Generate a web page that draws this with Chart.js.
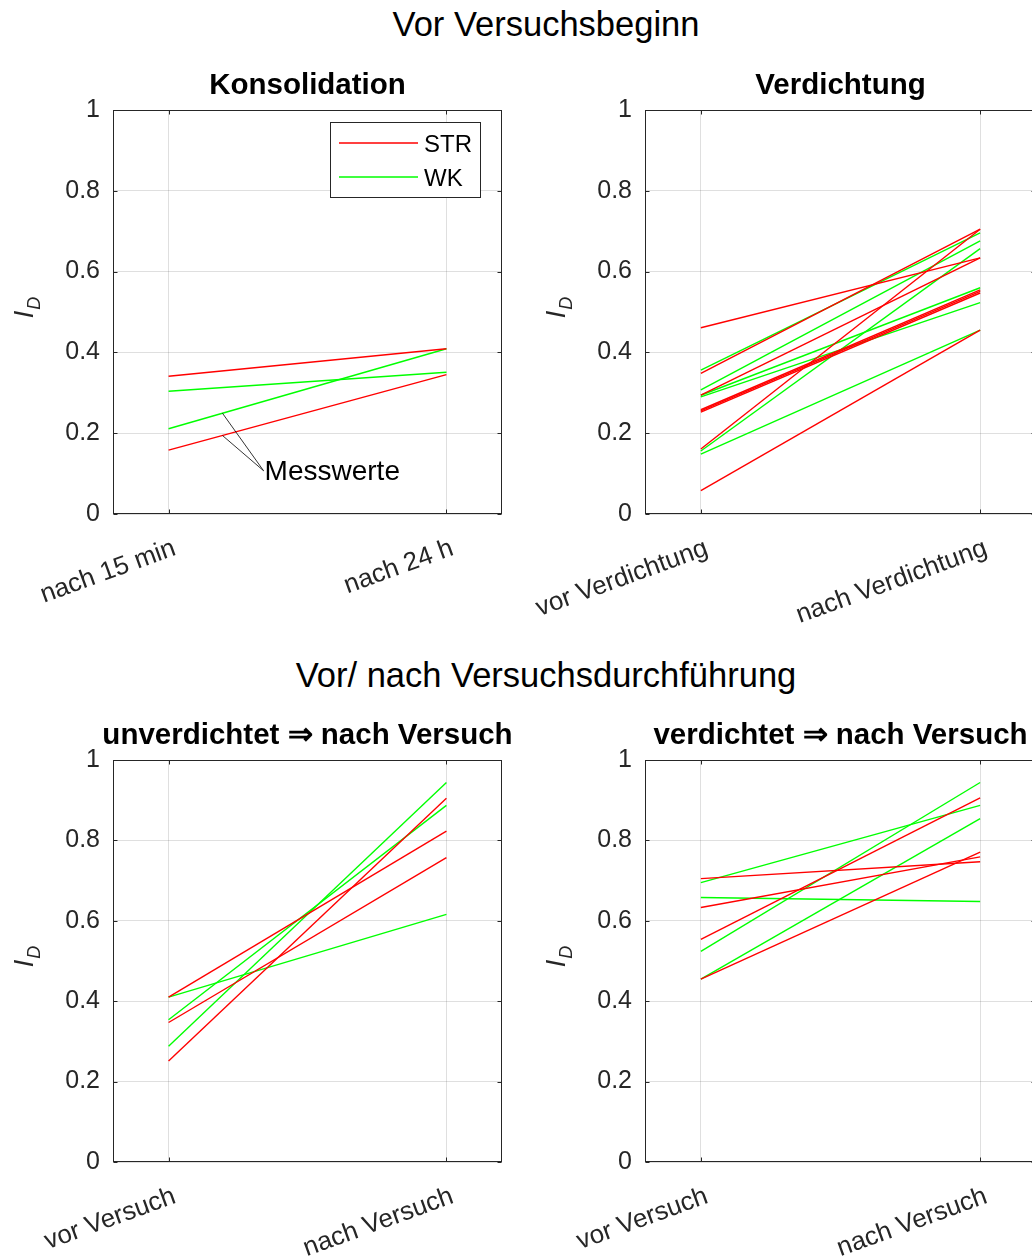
<!DOCTYPE html>
<html>
<head>
<meta charset="utf-8">
<script src="https://cdn.jsdelivr.net/npm/chart.js@4/dist/chart.umd.min.js"></script>
<style>
  html, body { margin: 0; padding: 0; background: #fff; overflow: hidden; }
  #page { position: relative; width: 1032px; height: 1257px; overflow: hidden; font-family: "Liberation Sans", Arial, sans-serif; }
  .sup { position: absolute; left: 0; width: 1092px; text-align: center; font-size: 34.5px; line-height: 40px; color: #000; white-space: nowrap; }
  canvas { position: absolute; }
</style>
</head>
<body>
<div id="page">
  <div class="sup" style="top:4px">Vor Versuchsbeginn</div>
  <div class="sup" style="top:655px">Vor/ nach Versuchsdurchführung</div>
  <canvas id="cKons"></canvas>
  <canvas id="cVerd"></canvas>
  <canvas id="cUnv"></canvas>
  <canvas id="cVerV"></canvas>
</div>
<script>
// ---- data: relative density I_D, each pair = [first state, second state] ----
const yTicks = [0, 0.2, 0.4, 0.6, 0.8, 1];

const konsCats = ['nach 15 min', 'nach 24 h'];
const konsSTR = [[0.341, 0.409], [0.158, 0.345]];
const konsWK  = [[0.304, 0.351], [0.211, 0.409]];

const verdCats = ['vor Verdichtung', 'nach Verdichtung'];
const verdSTR = [[0.461, 0.634], [0.348, 0.705], [0.294, 0.634], [0.258, 0.555],
                 [0.255, 0.551], [0.252, 0.547], [0.161, 0.705], [0.058, 0.455]];
const verdWK  = [[0.356, 0.696], [0.307, 0.676], [0.294, 0.560], [0.290, 0.523],
                 [0.156, 0.657], [0.148, 0.455]];

const unvCats = ['vor Versuch', 'nach Versuch'];
const unvSTR = [[0.410, 0.823], [0.347, 0.757], [0.251, 0.905]];
const unvWK  = [[0.410, 0.616], [0.354, 0.887], [0.288, 0.944]];

const verVCats = ['vor Versuch', 'nach Versuch'];
const verVSTR = [[0.705, 0.747], [0.633, 0.759], [0.554, 0.906], [0.455, 0.771]];
const verVWK  = [[0.695, 0.887], [0.658, 0.648], [0.524, 0.944], [0.455, 0.854]];

// ---- styling ----
const FONT = '"Liberation Sans", Arial, sans-serif';
const AXIS_COLOR = '#262626';
const GRID_COLOR = 'rgba(38,38,38,0.15)';
const RED = '#ff0000';
const GREEN = '#00ff00';
Chart.defaults.font.family = FONT;
Chart.defaults.color = AXIS_COLOR;

function seriesToDatasets(series, color, label) {
  return series.map((p, i) => ({
    label: i === 0 ? label : '',
    data: [{ x: 1, y: p[0] }, { x: 2, y: p[1] }],
    borderColor: color,
    borderWidth: 1.4,
    pointRadius: 0,
    fill: false,
    tension: 0
  }));
}

// full box around the axes with short inward ticks
const framePlugin = {
  id: 'frame',
  afterDatasetsDraw(chart) {
    const { ctx, chartArea: a, scales } = chart;
    ctx.save();
    ctx.strokeStyle = AXIS_COLOR;
    ctx.lineWidth = 1;
    const L = Math.round(a.left) + 0.5, R = Math.round(a.right) - 0.5;
    const T = Math.round(a.top) + 0.5, B = Math.round(a.bottom) - 0.5;
    ctx.strokeRect(L, T, R - L, B - T);
    const tl = 4;
    ctx.beginPath();
    yTicks.forEach(v => {
      const py = Math.round(scales.y.getPixelForValue(v)) + 0.5;
      ctx.moveTo(L, py); ctx.lineTo(L + tl, py);
      ctx.moveTo(R, py); ctx.lineTo(R - tl, py);
    });
    [1, 2].forEach(v => {
      const px = Math.round(scales.x.getPixelForValue(v)) + 0.5;
      ctx.moveTo(px, T); ctx.lineTo(px, T + tl);
      ctx.moveTo(px, B); ctx.lineTo(px, B - tl);
    });
    ctx.stroke();
    ctx.restore();
  }
};

// y axis label I_D (italic, subscript D)
const yLabelPlugin = {
  id: 'yLabelID',
  afterDraw(chart) {
    const { ctx, chartArea: a } = chart;
    ctx.save();
    ctx.translate(a.left - 80, (a.top + a.bottom) / 2 - 4);
    ctx.rotate(-Math.PI / 2);
    ctx.fillStyle = AXIS_COLOR;
    ctx.textAlign = 'left';
    ctx.textBaseline = 'alphabetic';
    ctx.font = 'italic 27px ' + FONT;
    const wI = ctx.measureText('I').width;
    ctx.font = 'italic 18px ' + FONT;
    const wD = ctx.measureText('D').width;
    const x0 = -(wI + wD) / 2;
    ctx.font = 'italic 27px ' + FONT;
    ctx.fillText('I', x0, 0);
    ctx.font = 'italic 18px ' + FONT;
    ctx.fillText('D', x0 + wI + 1, 7);
    ctx.restore();
  }
};

// legend box inside the first axes
const legendPlugin = {
  id: 'boxLegend',
  afterDatasetsDraw(chart) {
    const { ctx, chartArea: a } = chart;
    const x1 = a.right - 172, x2 = a.right - 22, y1 = a.top + 12, y2 = a.top + 87;
    ctx.save();
    ctx.fillStyle = '#fff';
    ctx.fillRect(x1, y1, x2 - x1, y2 - y1);
    ctx.strokeStyle = AXIS_COLOR;
    ctx.lineWidth = 1;
    ctx.strokeRect(x1 + 0.5, y1 + 0.5, x2 - x1, y2 - y1);
    const items = [['STR', RED, 23], ['WK', GREEN, 57]];
    ctx.font = '24px ' + FONT;
    ctx.textBaseline = 'middle';
    ctx.textAlign = 'left';
    items.forEach(([txt, col, dy]) => {
      ctx.strokeStyle = col;
      ctx.lineWidth = 1.4;
      ctx.beginPath();
      ctx.moveTo(x1 + 9, y1 + dy - 2);
      ctx.lineTo(x1 + 88, y1 + dy - 2);
      ctx.stroke();
      ctx.fillStyle = '#000';
      ctx.fillText(txt, x1 + 94, y1 + dy);
    });
    ctx.restore();
  }
};

// "Messwerte" callout pointing at two measured lines
const calloutPlugin = {
  id: 'callout',
  afterDatasetsDraw(chart) {
    const { ctx, scales: { x, y } } = chart;
    const at = 1.194;
    const targets = [konsWK[1], konsSTR[1]].map(p => p[0] + (p[1] - p[0]) * (at - 1));
    const ax = x.getPixelForValue(1.342), ay = y.getPixelForValue(0.107);
    ctx.save();
    ctx.strokeStyle = '#000';
    ctx.lineWidth = 0.8;
    ctx.beginPath();
    targets.forEach(v => {
      ctx.moveTo(ax, ay);
      ctx.lineTo(x.getPixelForValue(at), y.getPixelForValue(v));
    });
    ctx.stroke();
    ctx.fillStyle = '#000';
    ctx.font = '28px ' + FONT;
    ctx.textAlign = 'left';
    ctx.textBaseline = 'middle';
    ctx.fillText('Messwerte', ax + 1, ay + 2);
    ctx.restore();
  }
};

// Each canvas has equal margins left and right of its plot area (a blank
// right-hand axis balances the labelled left axis), so the full-width
// title is centred over the axes.
function makeChart(id, g, title, cats, strSeries, wkSeries, extraPlugins) {
  const cv = document.getElementById(id);
  const side = g.side;
  cv.style.left = (g.areaLeft - side) + 'px';
  cv.style.top = g.top + 'px';
  cv.width = (g.areaRight - g.areaLeft) + 2 * side;
  cv.height = g.height;
  const xAxisH = g.top + g.height - g.areaBottom;
  const TITLE_SIZE = 29.5;
  const lh = TITLE_SIZE * 1.2;
  const titleBoxTop = g.titleMid - g.top - lh / 2;
  return new Chart(cv, {
    type: 'line',
    data: { datasets: [...seriesToDatasets(strSeries, RED, 'STR'), ...seriesToDatasets(wkSeries, GREEN, 'WK')] },
    options: {
      responsive: false,
      animation: false,
      devicePixelRatio: 1,
      layout: { padding: 0 },
      plugins: {
        legend: { display: false },
        tooltip: { enabled: false },
        title: {
          display: true,
          text: title,
          color: '#000',
          font: { size: TITLE_SIZE, weight: 'bold', lineHeight: 1.2 },
          padding: { top: titleBoxTop, bottom: g.areaTop - g.top - titleBoxTop - lh }
        }
      },
      scales: {
        x: {
          type: 'linear',
          min: 0.8, max: 2.2,
          afterBuildTicks: s => { s.ticks = [{ value: 1 }, { value: 2 }]; },
          afterFit: s => { s.height = xAxisH; },
          grid: { color: GRID_COLOR, drawTicks: false },
          border: { display: false },
          ticks: {
            autoSkip: false,
            minRotation: 20, maxRotation: 20,
            padding: 19,
            labelOffset: 6,
            color: AXIS_COLOR,
            font: { size: 26 },
            callback: v => cats[Math.round(v) - 1]
          }
        },
        y: {
          type: 'linear',
          position: 'left',
          min: 0, max: 1,
          afterBuildTicks: s => { s.ticks = yTicks.map(v => ({ value: v })); },
          afterFit: s => { s.width = side; },
          grid: { color: GRID_COLOR, drawTicks: false },
          border: { display: false },
          ticks: {
            padding: 13, color: AXIS_COLOR, font: { size: 25 },
            callback: v => String(Math.round(v * 10) / 10)
          }
        },
        yRight: {
          type: 'linear',
          position: 'right',
          min: 0, max: 1,
          afterFit: s => { s.width = side; },
          grid: { display: false, drawTicks: false },
          border: { display: false },
          ticks: { display: false }
        }
      }
    },
    plugins: [framePlugin, yLabelPlugin, ...(extraPlugins || [])]
  });
}

makeChart('cKons',
  { side: 113, top: 0, height: 640, areaLeft: 113, areaRight: 502, areaTop: 110, areaBottom: 514, titleMid: 86 },
  'Konsolidation', konsCats, konsSTR, konsWK, [calloutPlugin, legendPlugin]);

makeChart('cVerd',
  { side: 160, top: 0, height: 640, areaLeft: 645, areaRight: 1036, areaTop: 110, areaBottom: 514, titleMid: 86 },
  'Verdichtung', verdCats, verdSTR, verdWK);

makeChart('cUnv',
  { side: 113, top: 640, height: 617, areaLeft: 113, areaRight: 502, areaTop: 760, areaBottom: 1162, titleMid: 736 },
  'unverdichtet \u21D2 nach Versuch', unvCats, unvSTR, unvWK);

makeChart('cVerV',
  { side: 160, top: 640, height: 617, areaLeft: 645, areaRight: 1036, areaTop: 760, areaBottom: 1162, titleMid: 736 },
  'verdichtet \u21D2 nach Versuch', verVCats, verVSTR, verVWK);
</script>
</body>
</html>
